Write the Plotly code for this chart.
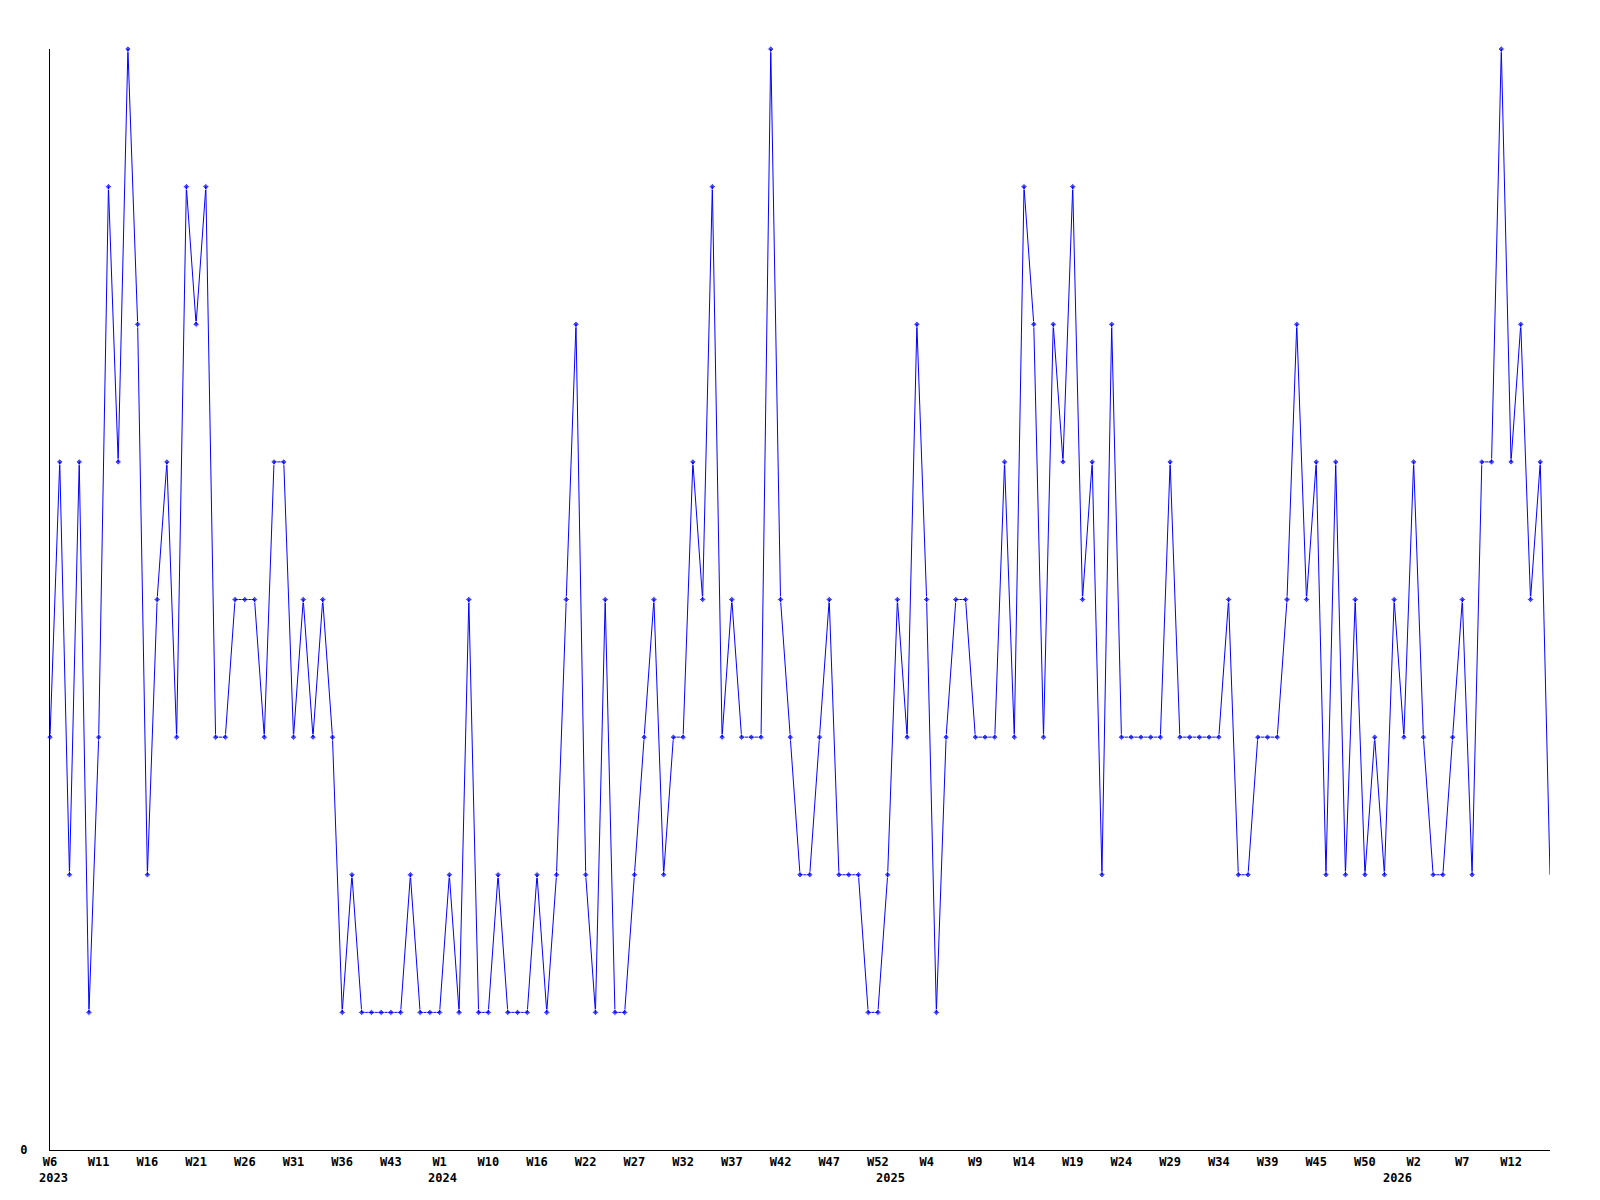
import plotly.graph_objects as go

# Weekly values, one per point (evenly spaced along the x axis)
values = [
    3, 5, 2, 5, 1, 3, 7, 5, 8, 6,
    2, 4, 5, 3, 7, 6, 7, 3, 3, 4,
    4, 4, 3, 5, 5, 3, 4, 3, 4, 3,
    1, 2, 1, 1, 1, 1, 1, 2, 1, 1,
    1, 2, 1, 4, 1, 1, 2, 1, 1, 1,
    2, 1, 2, 4, 6, 2, 1, 4, 1, 1,
    2, 3, 4, 2, 3, 3, 5, 4, 7, 3,
    4, 3, 3, 3, 8, 4, 3, 2, 2, 3,
    4, 2, 2, 2, 1, 1, 2, 4, 3, 6,
    4, 1, 3, 4, 4, 3, 3, 3, 5, 3,
    7, 6, 3, 6, 5, 7, 4, 5, 2, 6,
    3, 3, 3, 3, 3, 5, 3, 3, 3, 3,
    3, 4, 2, 2, 3, 3, 3, 4, 6, 4,
    5, 2, 5, 2, 4, 2, 3, 2, 4, 3,
    5, 3, 2, 2, 3, 4, 2, 5, 5, 8,
    5, 6, 4, 5, 2,
]

# Week tick labels, one every 5 points
week_labels = ["W6", "W11", "W16", "W21", "W26", "W31", "W36", "W43", "W1", "W10",
               "W16", "W22", "W27", "W32", "W37", "W42", "W47", "W52", "W4", "W9",
               "W14", "W19", "W24", "W29", "W34", "W39", "W45", "W50", "W2", "W7", "W12"]
week_step = 5

# Year labels and the point index where each year starts
years = ["2023", "2024", "2025", "2026"]
year_index = [0, 40, 86, 138]

x = list(range(len(values)))
tickvals = [i * week_step for i in range(len(week_labels))]

font_main = dict(family="DejaVu Sans Mono", size=12, color="black", weight="bold")

marker_sizes = [5] * (len(values) - 1) + [0]

fig = go.Figure()
fig.add_trace(go.Scatter(
    x=x, y=values, mode="lines+markers",
    line=dict(color="#0000ff", width=1),
    marker=dict(symbol="diamond", size=marker_sizes, color="#0000ff"),
    cliponaxis=False, showlegend=False,
))

for yr, idx in zip(years, year_index):
    fig.add_annotation(x=idx, y=0, xref="x", yref="paper", text=yr,
                       showarrow=False, yanchor="top", yshift=-19, xshift=3,
                       font=font_main)

fig.update_layout(
    width=1600, height=1200,
    margin=dict(l=42, r=58, t=41, b=58, autoexpand=False),
    paper_bgcolor="white", plot_bgcolor="white",
    xaxis=dict(range=[0, len(values) - 1], tickvals=tickvals, ticktext=week_labels,
               showgrid=False, zeroline=False, showline=True, linecolor="black",
               linewidth=1, ticks="", tickfont=font_main, ticklabelstandoff=1),
    yaxis=dict(range=[0, 8], tickvals=[0], ticktext=["0"], showgrid=False,
               zeroline=False, showline=True, linecolor="black", linewidth=1,
               ticks="", tickfont=font_main, ticklabelstandoff=19),
)

fig.write_html("out.html")
